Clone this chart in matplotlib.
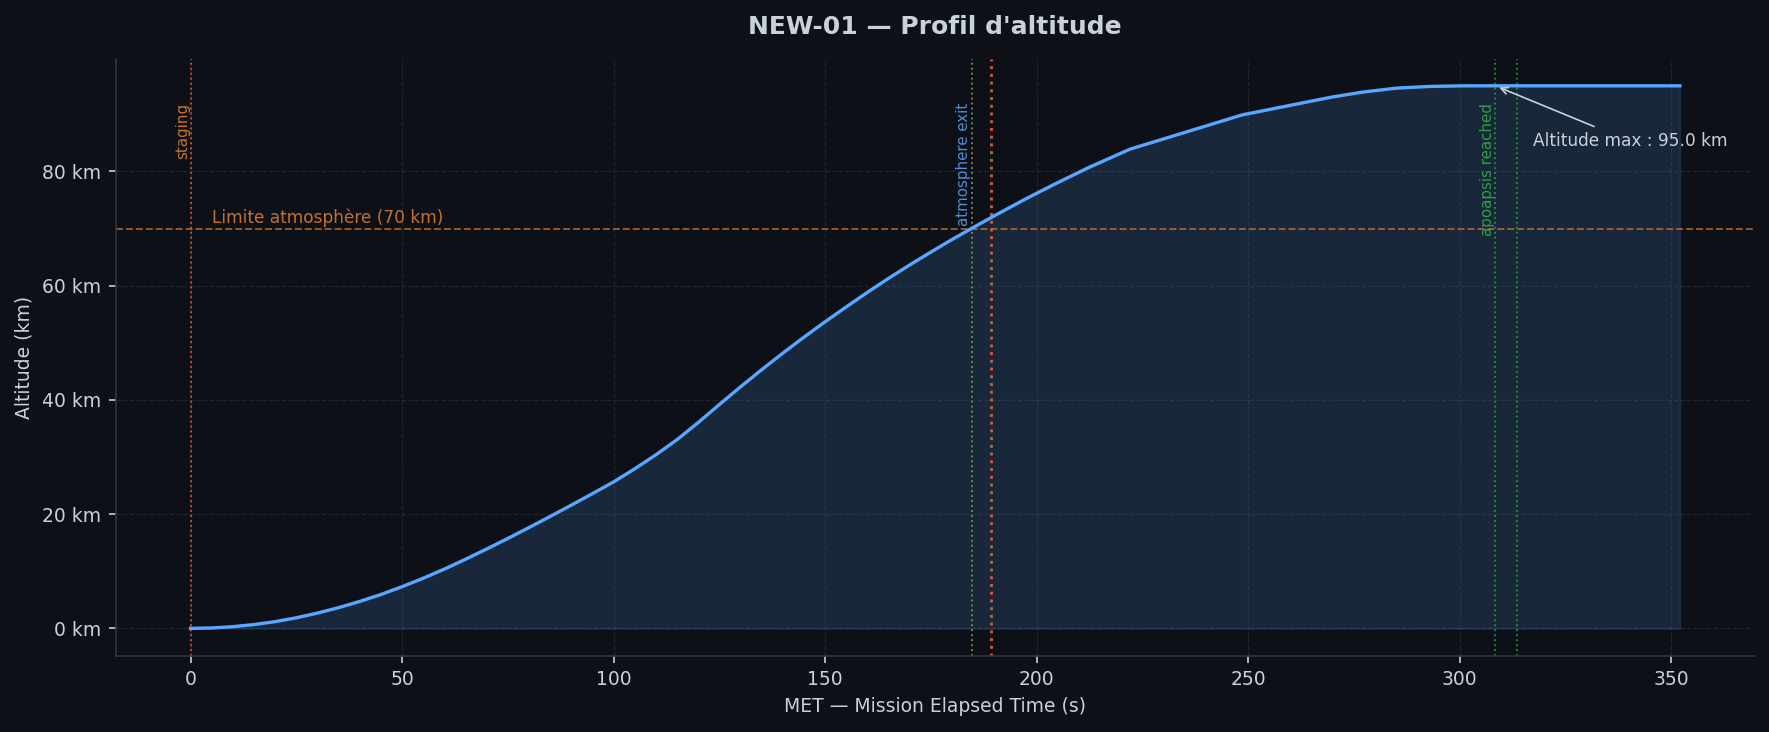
import matplotlib
matplotlib.use("Agg")
import matplotlib.pyplot as plt
from matplotlib.ticker import FuncFormatter

# altitude profile (MET s, altitude km)
met = [0, 5, 10, 15, 20, 25, 30, 35, 40, 45, 50, 55, 60, 65, 70, 75, 80, 85, 90, 95,
       100, 105, 110, 115, 120, 125, 130, 135, 140, 145, 150, 155, 160, 165, 170, 175,
       180, 185, 190, 197, 204, 212, 222, 248.5, 269.5, 277, 285, 293, 301, 308, 322,
       337, 352]
altitude = [0.0, 0.07, 0.3, 0.67, 1.18, 1.85, 2.68, 3.63, 4.72, 5.93, 7.3, 8.78, 10.38,
            12.1, 13.9, 15.75, 17.65, 19.6, 21.58, 23.6, 25.65, 27.95, 30.4, 33.05, 36.05,
            39.2, 42.3, 45.3, 48.2, 51.0, 53.7, 56.3, 58.85, 61.3, 63.65, 65.9, 68.1,
            70.2, 72.25, 75.05, 77.7, 80.6, 83.9, 89.9, 93.0, 93.9, 94.6, 94.9, 95.0, 95.0,
            95.0, 95.0, 95.0]

# events: time, label, line colour, label colour
event_times = [0, 184.6, 189.2, 308.4, 313.4]
event_labels = ["staging", "atmosphere exit", "", "apoapsis reached", ""]
event_colors = ["#d95a3a", "#8f8f5a", "#de6238", "#2a9640", "#2a9640"]
event_text_colors = ["#c8742f", "#4f8fd6", "#c8742f", "#2ea043", "#2ea043"]

atmo_limit = 70
max_alt = max(altitude)
t_apo = event_times[3]

BG = "#0d1117"
FG = "#c9d1d9"
GRID = "#30363d"

fig = plt.figure(figsize=(1769 / 150, 732 / 150), dpi=150, facecolor=BG)
ax = fig.add_axes([0.0656, 0.1045, 0.9917 - 0.0656, 0.9198 - 0.1045])
ax.set_facecolor(BG)

ax.fill_between(met, altitude, 0, color="#58a6ff", alpha=0.15, linewidth=0.8)
ax.plot(met, altitude, color="#58a6ff", linewidth=1.6, zorder=3)

ax.axhline(atmo_limit, color="#d07a3a", linestyle="--", linewidth=0.9, alpha=0.7)
ax.text(5, atmo_limit + 0.2, "Limite atmosphère (70 km)", color="#c2702f",
        fontsize=8.2, va="bottom", ha="left")

for t, lab, c, tc in zip(event_times, event_labels, event_colors, event_text_colors):
    lw = 1.4 if t == event_times[2] else 0.9
    ax.axvline(t, color=c, linestyle=":", linewidth=lw, alpha=0.9)
    if lab:
        ax.text(t - 0.1, 92, lab, rotation=90, color=tc, fontsize=7.2,
                va="top", ha="right")

ax.annotate(f"Altitude max : {max_alt:.1f} km", xy=(t_apo, max_alt),
            xytext=(317.2, 85.3), color=FG, fontsize=8.2, va="center", ha="left",
            arrowprops=dict(arrowstyle="->", color=FG, lw=0.8))

ax.set_title("NEW-01 — Profil d'altitude", color=FG, fontsize=12,
             fontweight="bold", pad=12)
ax.set_xlabel("MET — Mission Elapsed Time (s)", color=FG, fontsize=9)
ax.set_ylabel("Altitude (km)", color=FG, fontsize=9)

ax.yaxis.set_major_formatter(FuncFormatter(lambda v, p: f"{v:.0f} km"))
ax.set_yticks([0, 20, 40, 60, 80])
ax.tick_params(colors=FG, labelsize=9)
ax.grid(True, color=GRID, linestyle="--", linewidth=0.6, alpha=0.55)
ax.set_axisbelow(True)

for side in ["top", "right"]:
    ax.spines[side].set_visible(False)
for side in ["left", "bottom"]:
    ax.spines[side].set_color(GRID)

fig.savefig("out.png", dpi=150, facecolor=BG)
